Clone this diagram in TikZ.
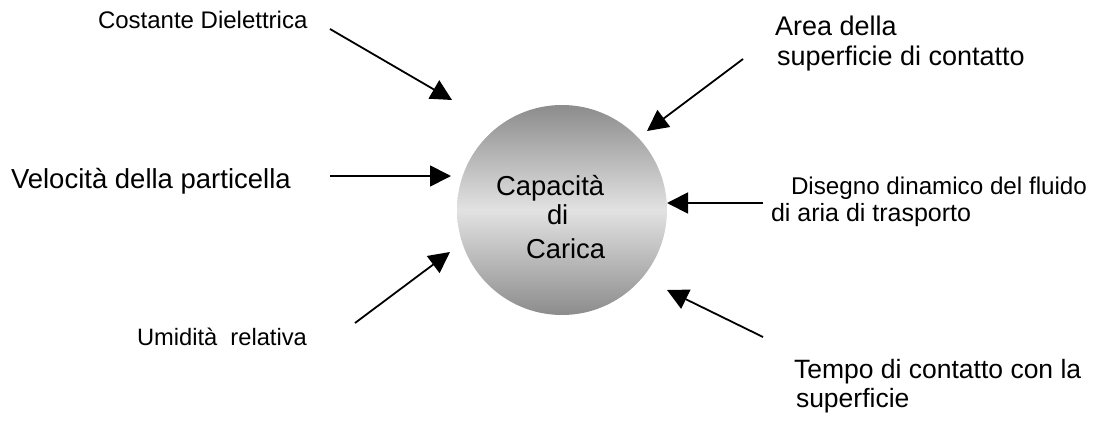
\documentclass[tikz,border=0pt]{standalone}
\usepackage{fontspec}
\setmainfont{Liberation Sans}
\usetikzlibrary{arrows.meta}
\definecolor{edgegray}{RGB}{140,140,140}
\definecolor{midgray}{RGB}{226,226,226}
\pgfdeclareverticalshading{ballshade}{100bp}{color(0bp)=(edgegray); color(25bp)=(edgegray); color(50bp)=(midgray); color(75bp)=(edgegray); color(100bp)=(edgegray)}
\begin{document}
\begin{tikzpicture}[x=1pt,y=-1pt,
  lbl/.style={anchor=base west, inner sep=0pt, outer sep=0pt},
  arr/.style={line width=1.8pt, -{Triangle[length=21pt,width=21pt]}},
  ball/.style={circle, minimum size=210pt, inner sep=0pt, shading=ballshade}
]
\useasboundingbox (0,0) rectangle (1096,423);
% central circle
\node[ball] (c) at (562,210) {};
\node[lbl, font=\fontsize{27.4pt}{31pt}\selectfont] (c1) at (496,195) {Capacità};
\node[lbl, font=\fontsize{27.4pt}{31pt}\selectfont] (c2) at (547,224) {di};
\node[lbl, font=\fontsize{27.4pt}{31pt}\selectfont] (c3) at (526,258) {Carica};
% labels
\node[lbl, font=\fontsize{24pt}{28pt}\selectfont] (t1) at (98,28) {Costante Dielettrica};
\node[lbl, font=\fontsize{27pt}{30pt}\selectfont] (t2a) at (775,35) {Area della};
\node[lbl, font=\fontsize{27pt}{30pt}\selectfont] (t2b) at (777,65) {superficie di contatto};
\node[lbl, font=\fontsize{27.5pt}{31pt}\selectfont] (t3) at (11,188) {Velocità della particella};
\node[lbl, font=\fontsize{24.2pt}{28pt}\selectfont] (t4a) at (791,194) {Disegno dinamico del fluido};
\node[lbl, font=\fontsize{25pt}{28pt}\selectfont] (t4b) at (771,221) {di aria di trasporto};
\node[lbl, font=\fontsize{23.7pt}{28pt}\selectfont] (t5) at (137,345) {Umidità\ \ relativa};
\node[lbl, font=\fontsize{26.5pt}{30pt}\selectfont] (t6a) at (794,378) {Tempo di contatto con la};
\node[lbl, font=\fontsize{26.5pt}{30pt}\selectfont] (t6b) at (796,407) {superficie};
% arrow endpoints
\coordinate (s1) at (330,29);  \coordinate (e1) at (452,100);
\coordinate (s2) at (743,59);  \coordinate (e2) at (647,131);
\coordinate (s3) at (330,176); \coordinate (e3) at (451,176);
\coordinate (s4) at (355,323); \coordinate (e4) at (450,252);
\coordinate (s5) at (763,203); \coordinate (e5) at (667,203);
\coordinate (s6) at (763,337); \coordinate (e6) at (667,290);
\draw[arr] (s1) -- (e1);
\draw[arr] (s2) -- (e2);
\draw[arr] (s3) -- (e3);
\draw[arr] (s4) -- (e4);
\draw[arr] (s5) -- (e5);
\draw[arr] (s6) -- (e6);
\end{tikzpicture}
\end{document}
